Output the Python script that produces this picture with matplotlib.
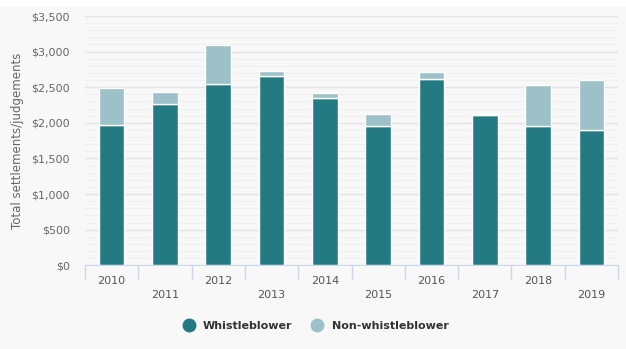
import matplotlib.pyplot as plt
from matplotlib.lines import Line2D
from matplotlib.ticker import MultipleLocator, FuncFormatter
import numpy as np

# Значення (млн $)
years = ["2010", "2011", "2012", "2013", "2014", "2015", "2016", "2017", "2018", "2019"]
whistleblower = [1965, 2262, 2543, 2655, 2346, 1953, 2612, 2107, 1953, 1896]
non_whistleblower = [530, 175, 546, 70, 78, 167, 98, 22, 574, 701]

dark = "#237a82"
light = "#9cc1c9"
bg = "#f8f8f8"

fig = plt.figure(figsize=(6.26, 3.49), dpi=100)
fig.patch.set_facecolor(bg)
# біла смуга зверху
fig.patches.append(plt.Rectangle((0, 1 - 7 / 349), 1, 7 / 349, transform=fig.transFigure,
                                 facecolor="white", edgecolor="none", zorder=0))

ax = fig.add_axes([85 / 626, 1 - 265.3 / 349, 533 / 626, 249.3 / 349])
ax.set_facecolor(bg)

x = np.arange(len(years))
ax.bar(x, whistleblower, width=0.48, color=dark, edgecolor="white", linewidth=1, zorder=3)
ax.bar(x, non_whistleblower, width=0.48, bottom=whistleblower, color=light,
       edgecolor="white", linewidth=1, zorder=3)

ax.set_xlim(-0.5, len(years) - 0.5)
ax.set_ylim(0, 3500)
ax.yaxis.set_major_locator(MultipleLocator(500))
ax.yaxis.set_minor_locator(MultipleLocator(100))
ax.yaxis.set_major_formatter(FuncFormatter(lambda v, p: f"${v:,.0f}"))
ax.grid(axis="y", which="major", color="#e3e3e3", linewidth=1, zorder=0)
ax.grid(axis="y", which="minor", color="#efefef", linewidth=0.8, zorder=0)
ax.tick_params(axis="y", which="both", length=0, labelsize=8, labelcolor="#666666", pad=11)

ax.set_xticks(x, years)
ax.set_xticks(np.arange(len(years) + 1) - 0.5, minor=True)
ax.tick_params(axis="x", which="major", length=0, labelsize=8, labelcolor="#555555")
ax.tick_params(axis="x", which="minor", length=10, color="#ccd6eb", width=1)
for i, t in enumerate(ax.xaxis.get_major_ticks()):
    t.set_pad(7.5 if i % 2 == 0 else 17.5)

for s in ["top", "right", "left"]:
    ax.spines[s].set_visible(False)
ax.spines["bottom"].set_color("#ccd6eb")
ax.spines["bottom"].set_zorder(4)

ax.set_ylabel("Total settlements/judgements", fontsize=8.5, color="#666666", labelpad=5)

handles = [
    Line2D([], [], marker="o", linestyle="none", markersize=9, color=dark),
    Line2D([], [], marker="o", linestyle="none", markersize=9, color=light),
]
leg = fig.legend(handles, ["Whistleblower", "Non-whistleblower"], loc="center",
                 bbox_to_anchor=(0.5, 1 - 326 / 349), ncol=2, frameon=False,
                 prop={"weight": "bold", "size": 8}, handletextpad=0.3, columnspacing=1.2)
for t in leg.get_texts():
    t.set_color("#333333")

fig.savefig("out.png", dpi=100, facecolor=fig.get_facecolor())
